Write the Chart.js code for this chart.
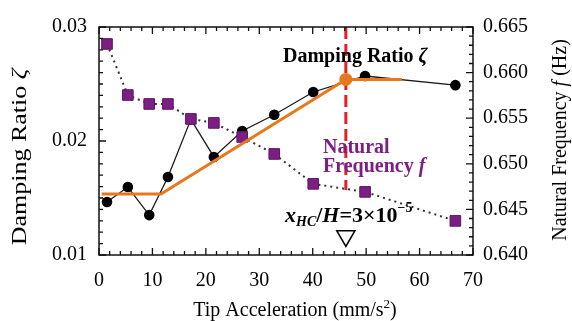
<!DOCTYPE html>
<html>
<head>
<meta charset="utf-8">
<script src="https://cdn.jsdelivr.net/npm/chart.js@4.4.1/dist/chart.umd.min.js"></script>
<style>
  html, body { margin: 0; padding: 0; background: #fff; }
</style>
</head>
<body>
<canvas id="myChart" width="572" height="321"></canvas>
<script>
// values
const accel = [1.5, 5.4, 9.4, 12.9, 17.2, 21.5, 26.8, 32.8, 40.1, 49.8, 66.7];
const dampingRatio = [0.01465, 0.01596, 0.0135, 0.01684, 0.0219, 0.0186, 0.02088, 0.0223, 0.0243, 0.0257, 0.0249];
const naturalFreq = [0.66314, 0.65754, 0.65656, 0.65656, 0.65492, 0.65448, 0.65294, 0.65108, 0.6478, 0.64692, 0.64374];
// bilinear fit of the damping ratio
const fitAccel = [0.5, 11.6, 46.2, 56.7];
const fitDamping = [0.01535, 0.01535, 0.0254, 0.0254];
// onset point, dashed marker line and triangle
const onsetAccel = 46.2;
const onsetDamping = 0.0254;
const onsetLine = [0.03, 0.0157];
const triangleDamping = 0.01167;
// tick labels
const xTicks = [0, 10, 20, 30, 40, 50, 60, 70];
const leftTicks = [0.01, 0.02, 0.03];
const rightTicks = [0.640, 0.645, 0.650, 0.655, 0.660, 0.665];

const serif = "'Liberation Serif', 'Times New Roman', serif";
const purple = '#7d1e84';
const orange = '#e8781e';

function pts(xs, ys) {
  return xs.map((x, i) => ({ x: x, y: ys[i] }));
}

function drawRuns(ctx, runs, x, y, align) {
  let w = 0;
  runs.forEach(r => { ctx.font = r.font; w += ctx.measureText(r.text).width; });
  let cx = align === 'center' ? x - w / 2 : x;
  ctx.textAlign = 'left';
  ctx.textBaseline = 'alphabetic';
  runs.forEach(r => {
    ctx.font = r.font;
    ctx.fillStyle = r.color || '#000';
    ctx.fillText(r.text, cx, y + (r.dy || 0));
    cx += ctx.measureText(r.text).width;
  });
}

// box frame with inward major/minor ticks on all four sides
const frameTicks = {
  id: 'frameTicks',
  afterDatasetsDraw(chart) {
    const { ctx, chartArea: a, scales } = chart;
    ctx.save();
    ctx.strokeStyle = '#111';
    ctx.lineWidth = 1.5;
    ctx.strokeRect(a.left, a.top, a.right - a.left, a.bottom - a.top);
    ctx.lineWidth = 1.3;
    ctx.beginPath();
    for (let v = 0; v <= 70; v += 2) {
      const px = scales.x.getPixelForValue(v);
      const len = v % 10 === 0 ? 7 : 4;
      ctx.moveTo(px, a.bottom); ctx.lineTo(px, a.bottom - len);
      ctx.moveTo(px, a.top); ctx.lineTo(px, a.top + len);
    }
    for (let i = 0; i <= 20; i++) {
      const py = scales.y.getPixelForValue(0.01 + i * 0.001);
      const len = i % 10 === 0 ? 7 : 4;
      ctx.moveTo(a.left, py); ctx.lineTo(a.left + len, py);
    }
    for (let i = 0; i <= 25; i++) {
      const py = scales.y2.getPixelForValue(0.64 + i * 0.001);
      const len = i % 5 === 0 ? 7 : 4;
      ctx.moveTo(a.right, py); ctx.lineTo(a.right - len, py);
    }
    ctx.stroke();
    ctx.restore();
  }
};

// axis titles and in-plot labels
const labels = {
  id: 'labels',
  afterDraw(chart) {
    const ctx = chart.ctx;
    ctx.save();
    // left title (stretched like the original)
    ctx.save();
    ctx.translate(26, 157);
    ctx.rotate(-Math.PI / 2);
    ctx.scale(1.3, 1);
    drawRuns(ctx, [
      { text: 'Damping Ratio ', font: '20px ' + serif },
      { text: 'ζ', font: 'italic 20px ' + serif }
    ], 0, 0, 'center');
    ctx.restore();
    // right title
    ctx.save();
    ctx.translate(566, 140);
    ctx.rotate(-Math.PI / 2);
    drawRuns(ctx, [
      { text: 'Natural Frequency ', font: '20px ' + serif },
      { text: 'f', font: 'italic 20px ' + serif },
      { text: ' (Hz)', font: '20px ' + serif }
    ], 0, 0, 'center');
    ctx.restore();
    // bottom title
    drawRuns(ctx, [
      { text: 'Tip Acceleration (mm/s', font: '20px ' + serif },
      { text: '2', font: '13px ' + serif, dy: -8 },
      { text: ')', font: '20px ' + serif }
    ], 295, 316, 'center');
    // series labels
    drawRuns(ctx, [
      { text: 'Damping Ratio ', font: 'bold 20px ' + serif },
      { text: 'ζ', font: 'bold italic 20px ' + serif }
    ], 283, 62, 'left');
    drawRuns(ctx, [
      { text: 'Natural', font: 'bold 20px ' + serif, color: purple }
    ], 323, 153, 'left');
    drawRuns(ctx, [
      { text: 'Frequency ', font: 'bold 20px ' + serif, color: purple },
      { text: 'f', font: 'bold italic 20px ' + serif, color: purple }
    ], 323, 172, 'left');
    drawRuns(ctx, [
      { text: 'x', font: 'bold italic 22px ' + serif },
      { text: 'HC', font: 'bold italic 14px ' + serif, dy: 4 },
      { text: '/', font: 'bold 22px ' + serif },
      { text: 'H', font: 'bold italic 22px ' + serif },
      { text: '=3×10', font: 'bold 22px ' + serif },
      { text: '−5', font: 'bold 14px ' + serif, dy: -10 }
    ], 285, 222, 'left');
    ctx.restore();
  }
};

const tickFont = { family: serif, size: 20 };

new Chart(document.getElementById('myChart'), {
  type: 'line',
  data: {
    datasets: [
      {
        label: 'Damping Ratio',
        data: pts(accel, dampingRatio),
        yAxisID: 'y',
        borderColor: '#1a1a1a',
        borderWidth: 1.3,
        pointRadius: 5.3,
        pointBackgroundColor: '#000',
        pointBorderWidth: 0,
        order: 5
      },
      {
        label: 'Natural Frequency',
        data: pts(accel, naturalFreq),
        yAxisID: 'y2',
        borderColor: '#333',
        borderWidth: 2,
        borderDash: [2, 4],
        pointStyle: 'rect',
        pointRadius: 7.5,
        pointBackgroundColor: purple,
        pointBorderColor: '#5e1466',
        pointBorderWidth: 1,
        order: 4
      },
      {
        label: 'Fit',
        data: pts(fitAccel, fitDamping),
        yAxisID: 'y',
        borderColor: orange,
        borderWidth: 3,
        pointRadius: 0,
        order: 3
      },
      {
        label: 'Onset',
        data: [{ x: onsetAccel, y: onsetDamping }],
        yAxisID: 'y',
        showLine: false,
        pointRadius: 6.5,
        pointBackgroundColor: orange,
        pointBorderWidth: 0,
        order: 1
      },
      {
        label: 'Onset line',
        data: onsetLine.map(v => ({ x: onsetAccel, y: v })),
        yAxisID: 'y',
        borderColor: '#e61e25',
        borderWidth: 3,
        borderDash: [12, 5],
        pointRadius: 0,
        order: 2
      },
      {
        label: 'Marker',
        data: [{ x: onsetAccel, y: triangleDamping }],
        yAxisID: 'y',
        showLine: false,
        pointStyle: 'triangle',
        rotation: 180,
        pointRadius: 10.5,
        pointBackgroundColor: '#fff',
        pointBorderColor: '#000',
        pointBorderWidth: 1.5,
        order: 0
      }
    ]
  },
  options: {
    responsive: false,
    animation: false,
    layout: { padding: { top: 27, left: 0, right: 0, bottom: 0 } },
    plugins: { legend: { display: false }, tooltip: { enabled: false } },
    scales: {
      x: {
        type: 'linear',
        position: 'bottom',
        min: 0, max: 70,
        grid: { display: false, drawTicks: false },
        border: { display: false },
        afterBuildTicks: s => { s.ticks = xTicks.map(v => ({ value: v })); },
        afterFit: s => { s.height = 66; },
        ticks: { color: '#000', font: tickFont, padding: 14, maxRotation: 0 }
      },
      y: {
        type: 'linear',
        position: 'left',
        min: 0.01, max: 0.03,
        grid: { display: false, drawTicks: false },
        border: { display: false },
        afterBuildTicks: s => { s.ticks = leftTicks.map(v => ({ value: v })); },
        afterFit: s => { s.width = 99; },
        ticks: { color: '#000', font: tickFont, padding: 12, callback: v => v.toFixed(2) }
      },
      y2: {
        type: 'linear',
        position: 'right',
        min: 0.64, max: 0.665,
        grid: { display: false, drawTicks: false },
        border: { display: false },
        afterBuildTicks: s => { s.ticks = rightTicks.map(v => ({ value: v })); },
        afterFit: s => { s.width = 99; },
        ticks: { color: '#000', font: tickFont, padding: 10, callback: v => v.toFixed(3) }
      }
    }
  },
  plugins: [frameTicks, labels]
});
</script>
</body>
</html>
